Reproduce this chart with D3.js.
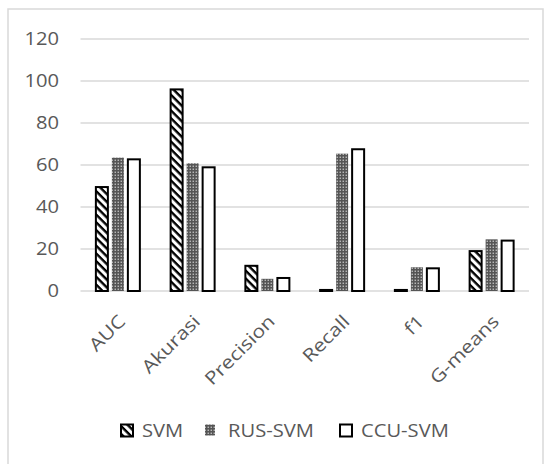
<!DOCTYPE html>
<html><head><meta charset="utf-8">
<script src="https://cdn.jsdelivr.net/npm/d3@7"></script>
<style>body{margin:0;background:#fff}svg{display:block}</style>
</head><body>
<script>
const categories = ["AUC","Akurasi","Precision","Recall","f1","G-means"];
const seriesNames = ["SVM","RUS-SVM","CCU-SVM"];
const svmValues = [49.5, 96.0, 12.0, 0.5, 0.5, 19.0];
const rusValues = [63.5, 60.8, 5.8, 65.4, 11.3, 24.6];
const ccuValues = [62.7, 58.9, 6.2, 67.5, 10.8, 24.0];
const yTicks = [0,20,40,60,80,100,120];

const W=553,H=464;
const svg=d3.select("body").append("svg").attr("width",W).attr("height",H);
const defs=svg.append("defs");
const stripe=defs.append("pattern").attr("id","pSvm").attr("patternUnits","userSpaceOnUse")
  .attr("width",5.5).attr("height",5.5).attr("patternTransform","rotate(45)");
stripe.append("rect").attr("width",5.5).attr("height",5.5).attr("fill","#fff");
stripe.append("rect").attr("width",5.5).attr("height",2.4).attr("fill","#000");
const dots=defs.append("pattern").attr("id","pRus").attr("patternUnits","userSpaceOnUse")
  .attr("width",3).attr("height",3);
dots.append("rect").attr("width",3).attr("height",3).attr("fill","#555");
dots.append("rect").attr("x",0.6).attr("y",0.6).attr("width",1.3).attr("height",1.3).attr("fill","#cfcfcf");

svg.append("rect").attr("x",8).attr("y",9).attr("width",535).attr("height",475)
  .attr("fill","none").attr("stroke","#d9d9d9").attr("stroke-width",1.5);

const x=d3.scaleBand().domain(categories).range([80.5,529]).padding(0);
const x1=d3.scaleBand().domain(seriesNames).range([0,46]).paddingInner(0.125).paddingOuter(0);
const y=d3.scaleLinear().domain([0,120]).range([291,39]);
const SX=1.12;
const font="'Open Sans', sans-serif";

// gridlines
svg.append("g").selectAll("line").data(yTicks).join("line")
  .attr("x1",x.range()[0]).attr("x2",x.range()[1])
  .attr("y1",d=>y(d)).attr("y2",d=>y(d))
  .attr("stroke","#d9d9d9").attr("stroke-width",1.3);

// y labels
svg.append("g").selectAll("text").data(yTicks).join("text")
  .attr("transform",d=>`translate(59,${y(d)}) scale(${SX},1)`)
  .attr("text-anchor","end").attr("dy","0.36em")
  .attr("font-family",font).attr("font-size",18).attr("fill","#595959").text(d=>d);

const data=[svmValues,rusValues,ccuValues];
const fills=["url(#pSvm)","url(#pRus)","#fff"];
const strokes=["#000","none","#000"];
seriesNames.forEach((s,si)=>{
  svg.append("g").selectAll("rect").data(categories).join("rect")
    .attr("x",c=>x(c)+x.bandwidth()/2-23+x1(s)+1)
    .attr("width",x1.bandwidth()-2)
    .attr("y",(c,i)=>y(data[si][i]))
    .attr("height",(c,i)=>y(0)-y(data[si][i]))
    .attr("fill",fills[si]).attr("stroke",strokes[si]).attr("stroke-width",2);
});

// category labels
svg.append("g").selectAll("text").data(categories).join("text")
  .attr("transform",c=>`translate(${x(c)+x.bandwidth()/2+4},${318}) rotate(-45) scale(1.18,1)`)
  .attr("text-anchor","end").attr("dy","0.36em")
  .attr("font-family",font).attr("font-size",18).attr("fill","#595959").text(c=>c);

// legend
const legX=[121,205,340];
const leg=svg.append("g");
seriesNames.forEach((s,i)=>{
  leg.append("rect").attr("x",legX[i]).attr("y",424.5).attr("width",i==1?10:12).attr("height",i==1?11:12)
    .attr("fill",fills[i]).attr("stroke",strokes[i]).attr("stroke-width",2);
  leg.append("text").attr("transform",`translate(${legX[i]+ (i==1?23:21)},431) scale(${SX},1)`)
    .attr("dy","0.36em").attr("font-family",font).attr("font-size",18).attr("fill","#595959").text(s);
});
</script>
</body></html>
